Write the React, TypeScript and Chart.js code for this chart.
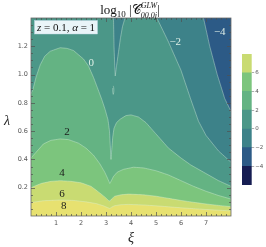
import React, { useEffect, useRef } from "react";
import { Chart, registerables } from "chart.js";

Chart.register(...registerables);

// ---- axes ----
const xiMin = 0;
const xiMax = 8;
const lamMin = 0;
const lamMax = 1.4;
const xTickValues = [1, 2, 3, 4, 5, 6, 7];
const yTickValues = [0.2, 0.4, 0.6, 0.8, 1.0, 1.2];

// ---- contour curves [xi, lambda] ----
const contourM2: [number, number][] = [
  [6.84, 1.6], [6.9, 1.4], [7.15, 1.2], [7.45, 1.0], [7.75, 0.83], [8.0, 0.74], [8.1, 0.71],
];
const contour0Spike: [number, number][] = [
  [3.3, 1.6], [3.3, 1.4], [3.32, 1.2], [3.35, 1.06], [3.37, 0.99], [3.42, 1.06],
  [3.5, 1.16], [3.58, 1.26], [3.66, 1.34], [3.76, 1.4], [3.85, 1.6],
];
const contour0Line: [number, number][] = [
  [4.95, 1.6], [5.05, 1.395], [5.5, 1.23], [6.0, 1.03], [6.4, 0.82], [6.7, 0.67],
  [7.0, 0.57], [7.5, 0.46], [8.0, 0.38], [8.1, 0.37],
];
const islandA: [number, number][] = [
  [3.29, 0.92], [3.31, 0.905], [3.315, 0.89], [3.31, 0.875], [3.29, 0.86],
  [3.27, 0.875], [3.265, 0.89], [3.27, 0.905],
];
const contour2: [number, number][] = [
  [-0.1, 0.83], [0.07, 0.89], [0.2, 0.98], [0.37, 1.07], [0.55, 1.13], [0.77, 1.165],
  [1.17, 1.19], [1.45, 1.185], [1.7, 1.17], [2.1, 1.11], [2.3, 1.06], [2.5, 0.98],
  [2.65, 0.91], [2.84, 0.82], [2.97, 0.75], [3.08, 0.68], [3.14, 0.6], [3.17, 0.5],
  [3.19, 0.42], [3.2, 0.4], [3.23, 0.47], [3.27, 0.56], [3.32, 0.62], [3.42, 0.66],
  [3.57, 0.685], [3.8, 0.71], [4.0, 0.715], [4.3, 0.7], [4.6, 0.66], [5.0, 0.58],
  [5.5, 0.48], [6.0, 0.41], [6.4, 0.36], [7.0, 0.3], [7.5, 0.25], [8.0, 0.21], [8.1, 0.2],
];
const contour4: [number, number][] = [
  [-0.1, 0.4], [0, 0.41], [0.2, 0.45], [0.5, 0.51], [0.8, 0.535], [1.17, 0.545],
  [1.5, 0.54], [1.9, 0.515], [2.2, 0.48], [2.5, 0.43], [2.75, 0.37], [2.95, 0.31],
  [3.08, 0.26], [3.15, 0.23], [3.2, 0.245], [3.3, 0.28], [3.45, 0.31], [3.7, 0.33],
  [4.1, 0.345], [4.5, 0.34], [5.0, 0.32], [5.5, 0.29], [6.0, 0.25], [6.5, 0.21],
  [7.0, 0.175], [7.5, 0.145], [8.0, 0.12], [8.1, 0.115],
];
const contour6: [number, number][] = [
  [-0.1, 0.195], [0, 0.2], [0.4, 0.23], [0.8, 0.245], [1.17, 0.25], [1.6, 0.245],
  [2.0, 0.235], [2.4, 0.21], [2.7, 0.17], [2.95, 0.135], [3.1, 0.11], [3.16, 0.105],
  [3.22, 0.12], [3.35, 0.14], [3.6, 0.15], [3.9, 0.155], [4.5, 0.15], [5.0, 0.14],
  [5.5, 0.125], [6.0, 0.11], [6.5, 0.097], [7.0, 0.085], [7.5, 0.075], [8.0, 0.066],
  [8.1, 0.064],
];
const contour8: [number, number][] = [
  [-0.1, 0.093], [0, 0.095], [0.5, 0.108], [1.17, 0.113], [1.7, 0.11], [2.2, 0.1],
  [2.6, 0.088], [2.9, 0.072], [3.08, 0.058], [3.15, 0.053], [3.22, 0.062], [3.35, 0.073],
  [3.6, 0.08], [3.9, 0.082], [4.5, 0.078], [5.0, 0.072], [5.5, 0.065], [6.0, 0.058],
  [6.5, 0.052], [7.0, 0.046], [7.5, 0.041], [8.0, 0.036], [8.1, 0.035],
];

// ---- band colours (value ranges) ----
const colorBelowM2 = "#2c5a86"; // -4..-2
const colorM2to0 = "#3d8289";
const color0to2 = "#4b9788";
const color2to4 = "#64b383";
const color4to6 = "#7cc57d";
const color6to8 = "#c9db72";
const colorAbove8 = "#e7e170";

// ---- colour bar ----
const barLevels = [-6, -4, -2, 0, 2, 4, 6, 8];
const barColors = ["#161d52", "#2c5a86", "#3d8289", "#4b9788", "#64b383", "#7cc57d", "#c9db72"];
const barTickValues = [-4, -2, 0, 2, 4, 6];

// ---- contour labels ----
const labelTexts = ["0", "\u22122", "\u22124", "2", "4", "6", "8"];
const labelXi = [2.41, 5.77, 7.55, 1.44, 1.24, 1.24, 1.31];
const labelLam = [1.083, 1.23, 1.3, 0.59, 0.305, 0.153, 0.067];
const labelLight = [true, true, true, false, false, false, false];

const OUT_L = -1;
const OUT_R = 9;
const OUT_B = -1;
const OUT_T = 1.8;

type Pt = [number, number];

// region below a curve that runs from the left edge to the right edge
function regionFromLeft(curve: Pt[]): Pt[] {
  const first = curve[0];
  const last = curve[curve.length - 1];
  return [[OUT_R, OUT_B], [OUT_L, OUT_B], [OUT_L, first[1]], ...curve, [OUT_R, last[1]]];
}

// region left of / below curves that start at the top edge
function regionFromTop(parts: Pt[][]): Pt[] {
  const pts: Pt[] = [[OUT_R, OUT_B], [OUT_L, OUT_B], [OUT_L, OUT_T]];
  for (const p of parts) {
    pts.push([p[0][0], OUT_T]);
    pts.push(...p);
    pts.push([p[p.length - 1][0], OUT_T]);
  }
  const last = parts[parts.length - 1];
  pts.pop();
  pts.push([OUT_R, last[last.length - 1][1]]);
  return pts;
}

const lineColor = "rgba(220,242,222,0.5)";

function polyDataset(points: Pt[], color: string, border: boolean) {
  return {
    data: points.map(([x, y]) => ({ x, y })),
    showLine: true,
    fill: "shape" as const,
    backgroundColor: color,
    borderColor: border ? lineColor : "rgba(0,0,0,0)",
    borderWidth: border ? 0.8 : 0,
    pointRadius: 0,
    tension: 0.00001,
    capBezierPoints: false,
    clip: 0,
  };
}

const serif = "'Liberation Serif', 'DejaVu Serif', serif";
const sans = "'DejaVu Sans', 'Liberation Sans', sans-serif";

type Piece = { t: string; font: string; dy: number; stack?: Piece };

function drawPieces(ctx: CanvasRenderingContext2D, pieces: Piece[], cx: number, baseY: number, color: string) {
  const widths = pieces.map((p) => {
    ctx.font = p.font;
    let w = ctx.measureText(p.t).width;
    if (p.stack) {
      ctx.font = p.stack.font;
      w = Math.max(w, ctx.measureText(p.stack.t).width);
    }
    return w;
  });
  const total = widths.reduce((a, b) => a + b, 0);
  let x = cx - total / 2;
  ctx.fillStyle = color;
  ctx.textBaseline = "alphabetic";
  ctx.textAlign = "left";
  pieces.forEach((p, i) => {
    ctx.font = p.font;
    ctx.fillText(p.t, x, baseY + p.dy);
    if (p.stack) {
      ctx.font = p.stack.font;
      ctx.fillText(p.stack.t, x, baseY + p.stack.dy);
    }
    x += widths[i];
  });
}

const decorPlugin = {
  id: "decor",
  afterDatasetsDraw(chart: any) {
    const { ctx, chartArea: a, scales } = chart;
    const xs = scales.x;
    const ys = scales.y;
    ctx.save();
    // contour labels
    ctx.font = `11px ${serif}`;
    ctx.textAlign = "center";
    ctx.textBaseline = "middle";
    labelTexts.forEach((t, i) => {
      ctx.fillStyle = labelLight[i] ? "rgba(232,246,236,0.95)" : "#1a1a1a";
      ctx.fillText(t, xs.getPixelForValue(labelXi[i]), ys.getPixelForValue(labelLam[i]));
    });
    // frame
    ctx.strokeStyle = "#6a6a6a";
    ctx.lineWidth = 0.8;
    ctx.strokeRect(a.left, a.top, a.right - a.left, a.bottom - a.top);
    // ticks (inward, all sides)
    ctx.strokeStyle = "#505050";
    ctx.lineWidth = 0.7;
    ctx.beginPath();
    for (let i = 1; i < 40; i++) {
      const v = i * 0.2;
      const major = i % 5 === 0;
      const len = major ? 4 : 2;
      const px = Math.round(xs.getPixelForValue(v)) + 0.5;
      ctx.moveTo(px, a.bottom);
      ctx.lineTo(px, a.bottom - len);
      ctx.moveTo(px, a.top);
      ctx.lineTo(px, a.top + len);
    }
    for (let i = 1; i < 28; i++) {
      const v = i * 0.05;
      const major = i % 4 === 0;
      const len = major ? 4 : 2;
      const py = Math.round(ys.getPixelForValue(v)) + 0.5;
      ctx.moveTo(a.left, py);
      ctx.lineTo(a.left + len, py);
      ctx.moveTo(a.right, py);
      ctx.lineTo(a.right - len, py);
    }
    ctx.stroke();

    // parameter box
    const bx = a.left + 3.5;
    const by = a.top + 2.5;
    ctx.fillStyle = "rgba(238,247,252,0.97)";
    ctx.fillRect(bx, by, 63, 13.5);
    ctx.strokeStyle = "rgba(190,215,230,0.9)";
    ctx.lineWidth = 0.5;
    ctx.strokeRect(bx, by, 63, 13.5);
    drawPieces(
      ctx,
      [
        { t: "z", font: `italic 11px ${serif}`, dy: 0 },
        { t: " = 0.1, ", font: `11px ${serif}`, dy: 0 },
        { t: "\u03b1", font: `italic 11px ${serif}`, dy: 0 },
        { t: " = 1", font: `11px ${serif}`, dy: 0 },
      ],
      bx + 31.5,
      by + 10.3,
      "#111"
    );

    // title
    drawPieces(
      ctx,
      [
        { t: "log", font: `13px ${serif}`, dy: 0 },
        { t: "10", font: `9px ${serif}`, dy: 3 },
        { t: " |", font: `13px ${serif}`, dy: 0 },
        { t: "\ud835\udc9e", font: `13px 'DejaVu Sans', ${serif}`, dy: 0 },
        { t: "GLW", font: `italic 8px ${serif}`, dy: -6, stack: { t: "00,0j", font: `italic 8px ${serif}`, dy: 3.5 } },
        { t: "|", font: `13px ${serif}`, dy: 0 },
      ],
      130,
      14,
      "#111"
    );

    // axis titles
    ctx.fillStyle = "#222";
    ctx.font = `italic 14px ${serif}`;
    ctx.textAlign = "center";
    ctx.textBaseline = "middle";
    ctx.fillText("\u03be", (a.left + a.right) / 2, 238);
    ctx.fillText("\u03bb", 7, 121);
    ctx.restore();
  },
};

export default function App() {
  const mainRef = useRef<HTMLCanvasElement>(null);
  const barRef = useRef<HTMLCanvasElement>(null);

  useEffect(() => {
    const datasets = [
      polyDataset(islandA, color0to2, true),
      polyDataset(regionFromLeft(contour8), colorAbove8, true),
      polyDataset(regionFromLeft(contour6), color6to8, true),
      polyDataset(regionFromLeft(contour4), color4to6, true),
      polyDataset(regionFromLeft(contour2), color2to4, true),
      polyDataset(regionFromTop([contour0Spike, contour0Line]), color0to2, true),
      polyDataset(regionFromTop([contourM2]), colorM2to0, true),
      polyDataset(
        [[OUT_R, OUT_B], [OUT_L, OUT_B], [OUT_L, OUT_T], [OUT_R, OUT_T]],
        colorBelowM2,
        false
      ),
    ];

    const main = new Chart(mainRef.current as HTMLCanvasElement, {
      type: "scatter",
      data: { datasets: datasets as any },
      options: {
        animation: false,
        responsive: false,
        events: [],
        layout: { padding: { left: 0, top: 18, right: 35, bottom: 0 } },
        plugins: { legend: { display: false }, tooltip: { enabled: false } },
        scales: {
          x: {
            type: "linear",
            min: xiMin,
            max: xiMax,
            afterFit: (s: any) => {
              s.height = 31;
            },
            afterBuildTicks: (s: any) => {
              s.ticks = xTickValues.map((v) => ({ value: v }));
            },
            ticks: {
              font: { size: 6.5, family: sans },
              color: "#555",
              padding: 3,
              maxRotation: 0,
              callback: (v: any) => String(v),
            },
            grid: { display: false, drawTicks: false },
            border: { display: false },
          },
          y: {
            type: "linear",
            min: lamMin,
            max: lamMax,
            afterFit: (s: any) => {
              s.width = 31;
            },
            afterBuildTicks: (s: any) => {
              s.ticks = yTickValues.map((v) => ({ value: v }));
            },
            ticks: {
              font: { size: 6.5, family: sans },
              color: "#555",
              padding: 3,
              callback: (v: any) => Number(v).toFixed(1),
            },
            grid: { display: false, drawTicks: false },
            border: { display: false },
          },
        },
      },
      plugins: [decorPlugin],
    });

    const bar = new Chart(barRef.current as HTMLCanvasElement, {
      type: "bar",
      data: {
        labels: [""],
        datasets: barColors.map((c, i) => ({
          data: [[barLevels[i], barLevels[i + 1]]] as any,
          backgroundColor: c,
          borderWidth: 0,
          barPercentage: 1,
          categoryPercentage: 1,
          grouped: false,
        })),
      },
      options: {
        animation: false,
        responsive: false,
        events: [],
        layout: { padding: { left: 6, top: 10, right: 0, bottom: 9 } },
        plugins: { legend: { display: false }, tooltip: { enabled: false } },
        scales: {
          x: { display: false },
          y: {
            position: "right",
            min: barLevels[0],
            max: barLevels[barLevels.length - 1],
            afterFit: (s: any) => {
              s.width = 14.3;
            },
            afterBuildTicks: (s: any) => {
              s.ticks = barTickValues.map((v) => ({ value: v }));
            },
            ticks: {
              font: { size: 5.5, family: sans },
              color: "#555",
              padding: 1,
              callback: (v: any) => (Number(v) < 0 ? "\u2212" + Math.abs(Number(v)) : String(v)),
            },
            grid: { drawOnChartArea: false, drawTicks: true, tickLength: 2.5, color: "#777", lineWidth: 0.6 },
            border: { display: false },
          },
        },
      },
    });

    return () => {
      main.destroy();
      bar.destroy();
    };
  }, []);

  return (
    <div style={{ position: "fixed", left: 0, top: 0, width: 266, height: 247, background: "#fff" }}>
      <canvas ref={mainRef} width={266} height={247} style={{ position: "absolute", left: 0, top: 0 }} />
      <canvas ref={barRef} width={30} height={150} style={{ position: "absolute", left: 236, top: 44 }} />
    </div>
  );
}
